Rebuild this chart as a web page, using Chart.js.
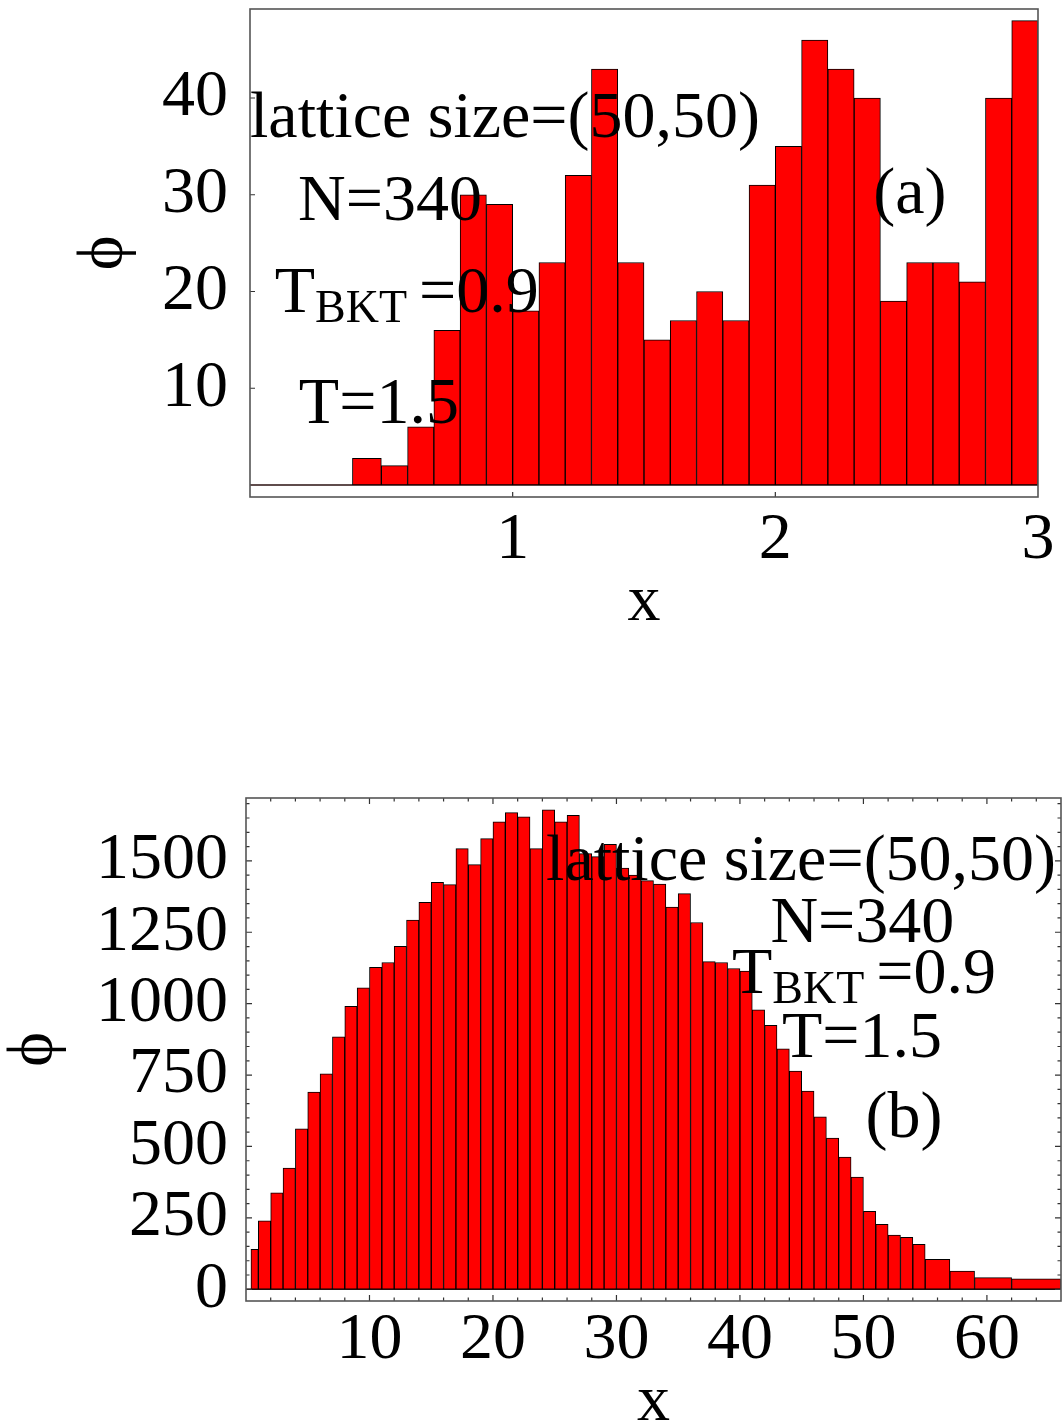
<!DOCTYPE html>
<html>
<head>
<meta charset="utf-8">
<script src="https://cdn.jsdelivr.net/npm/chart.js@4.4.0/dist/chart.umd.min.js"></script>
<style>
  html, body { margin: 0; padding: 0; background: #fff; overflow: hidden; }
  #wrapA { position: absolute; left: 0; top: 0; }
  #wrapB { position: absolute; left: 0; top: 760px; }
</style>
</head>
<body>
<div id="wrapA"><canvas id="chartA" width="1063" height="660"></canvas></div>
<div id="wrapB"><canvas id="chartB" width="1063" height="700"></canvas></div>
<script>
// ---------------- data ----------------
// (a) histogram: bin edges + counts
const edgesA = [0.39, 0.5, 0.6, 0.7, 0.8, 0.9, 1.0, 1.1, 1.2, 1.3, 1.4, 1.5, 1.6, 1.7,
  1.8, 1.9, 2.0, 2.1, 2.2, 2.3, 2.4, 2.5, 2.6, 2.7, 2.8, 2.9, 3.0];
const countsA = [2.75, 2, 6, 16, 30, 29, 18, 23, 32, 43, 23, 15, 17, 20, 17, 31, 35,
  46, 43, 40, 19, 23, 23, 21, 40, 48];
const xTicksA = [1, 2, 3];
const yTicksA = [10, 20, 30, 40];

// (b) histogram: bin edges + counts (wider bins in the tail)
const edgesB = [0.4, 1, 2, 3, 4, 5, 6, 7, 8, 9, 10, 11, 12, 13, 14, 15, 16, 17, 18, 19,
  20, 21, 22, 23, 24, 25, 26, 27, 28, 29, 30, 31, 32, 33, 34, 35, 36, 37, 38, 39, 40,
  41, 42, 43, 44, 45, 46, 47, 48, 49, 50, 51, 52, 53, 54, 55, 57, 59, 62, 66];
const countsB = [
  140, 240, 338, 424, 562, 690, 754, 884, 991, 1055,
  1127, 1144, 1201, 1293, 1355, 1425, 1417, 1543, 1487, 1578,
  1637, 1669, 1654, 1543, 1679, 1637, 1659, 1525, 1515, 1558,
  1475, 1450, 1431, 1419, 1338, 1385, 1284, 1147, 1144, 1123,
  1114, 978, 924, 842, 764, 694, 604, 529, 463, 393,
  273, 227, 190, 182, 157,
  105, 64, 41, 37,
];
const xTicksB = [10, 20, 30, 40, 50, 60];
const yTicksB = [0, 250, 500, 750, 1000, 1250, 1500];

// text labels
const sizeText = "lattice size=(50,50)";
const nText = "N=340";
const tcText = ["T", "BKT", "=0.9"];
const tText = "T=1.5";

const serif = '"Liberation Serif", "Times New Roman", serif';

// ---------------- helpers ----------------
function histData(edges, counts) {
  return counts.map((c, i) => ({ x: (edges[i] + edges[i + 1]) / 2, y: c }));
}

function range(from, to, step) {
  const out = [];
  for (let v = from; v <= to + 1e-9; v += step) out.push(v);
  return out;
}

// stretch each bar to its own bin edges (bins are not all the same width)
const binWidthPlugin = {
  id: "binWidth",
  afterDatasetsUpdate(chart) {
    const xs = chart.scales.x;
    chart.data.datasets.forEach((ds, di) => {
      const edges = ds.binEdges;
      if (!edges) return;
      chart.getDatasetMeta(di).data.forEach((bar, i) => {
        const l = xs.getPixelForValue(edges[i]);
        const r = xs.getPixelForValue(edges[i + 1]);
        bar.x = (l + r) / 2;
        bar.width = r - l;
      });
    });
  },
};

// box frame, zero line and inward tick marks
function framePlugin(o) {
  return {
    id: "frameTicks",
    beforeDatasetsDraw(chart) {
      const { ctx, chartArea: a, scales: { y } } = chart;
      const y0 = y.getPixelForValue(0);
      ctx.save();
      ctx.strokeStyle = "#2a1010";
      ctx.lineWidth = 1.4;
      ctx.beginPath();
      ctx.moveTo(a.left, y0);
      ctx.lineTo(a.right, y0);
      ctx.stroke();
      ctx.restore();
    },
    afterDatasetsDraw(chart) {
      const { ctx, chartArea: a, scales: { x, y } } = chart;
      ctx.save();
      ctx.strokeStyle = "#333";
      ctx.lineWidth = 1.2;
      ctx.beginPath();
      const xMarks = (vals, len) => vals.forEach((v) => {
        const px = x.getPixelForValue(v);
        if (px <= a.left + 1 || px >= a.right - 1) return;
        ctx.moveTo(px, a.bottom); ctx.lineTo(px, a.bottom - len);
        if (o.allSides) { ctx.moveTo(px, a.top); ctx.lineTo(px, a.top + len); }
      });
      const yMarks = (vals, len) => vals.forEach((v) => {
        const py = y.getPixelForValue(v);
        if (py <= a.top + 1 || py >= a.bottom - 1) return;
        ctx.moveTo(a.left, py); ctx.lineTo(a.left + len, py);
        if (o.allSides) { ctx.moveTo(a.right, py); ctx.lineTo(a.right - len, py); }
      });
      xMarks(o.xMajor, o.majorLen);
      yMarks(o.yMajor, o.majorLen);
      xMarks(o.xMinor || [], o.minorLen);
      yMarks(o.yMinor || [], o.minorLen);
      ctx.stroke();
      ctx.strokeStyle = "#555";
      ctx.lineWidth = 1.6;
      ctx.strokeRect(a.left, a.top, a.right - a.left, a.bottom - a.top);
      ctx.restore();
    },
  };
}

// text notes placed in data coordinates; parts run left to right
function notesPlugin(items) {
  return {
    id: "notes",
    afterDraw(chart) {
      const { ctx, scales: { x, y } } = chart;
      ctx.save();
      ctx.fillStyle = "#000";
      ctx.textAlign = "left";
      ctx.textBaseline = "alphabetic";
      items.forEach((it) => {
        let px = x.getPixelForValue(it.x);
        const py = y.getPixelForValue(it.y);
        it.parts.forEach((p) => {
          ctx.font = (p.size || 66) + "px " + serif;
          px += p.gap || 0;
          ctx.fillText(p.t, px, py + (p.dy || 0));
          px += ctx.measureText(p.t).width;
        });
      });
      ctx.restore();
    },
  };
}

function tcParts() {
  return [
    { t: tcText[0] },
    { t: tcText[1], size: 46, dy: 10 },
    { t: tcText[2], gap: 12 },
  ];
}

function histChart(id, o) {
  return new Chart(document.getElementById(id), {
    type: "bar",
    data: {
      datasets: [{
        data: histData(o.edges, o.counts),
        binEdges: o.edges,
        backgroundColor: "#ff0000",
        borderColor: "#000",
        borderWidth: 1,
        borderSkipped: false,
        barPercentage: 1,
        categoryPercentage: 1,
      }],
    },
    options: {
      responsive: false,
      animation: false,
      layout: { padding: o.padding },
      plugins: { legend: { display: false }, tooltip: { enabled: false } },
      scales: {
        x: {
          type: "linear",
          min: o.xMin, max: o.xMax,
          offset: false,
          grid: { display: false, drawTicks: false },
          border: { display: false },
          afterBuildTicks: (s) => { s.ticks = o.xTicks.map((v) => ({ value: v })); },
          afterFit: (s) => {
            s.height = o.xHeight;
            s.paddingLeft = 0;
            s.paddingRight = 0;
          },
          ticks: {
            autoSkip: false, maxRotation: 0, padding: o.xPad, color: "#000",
            font: { family: serif, size: 66, lineHeight: 1 },
            callback: (v) => String(v),
          },
          title: {
            display: true, text: "x", color: "#000",
            font: { family: serif, size: 66, lineHeight: 1 },
            padding: { top: 0, bottom: 24 },
          },
        },
        y: {
          min: o.yMin, max: o.yMax,
          grid: { display: false, drawTicks: false },
          border: { display: false },
          afterBuildTicks: (s) => { s.ticks = o.yTicks.map((v) => ({ value: v })); },
          afterFit: (s) => {
            s.width = o.yWidth;
            s.paddingTop = 0;
            s.paddingBottom = 0;
          },
          ticks: {
            autoSkip: false, padding: o.yPad, color: "#000",
            font: { family: serif, size: 66, lineHeight: 1 },
            callback: (v) => String(v),
          },
          title: {
            display: true, text: "ϕ", color: "#000",
            font: { family: serif, size: 66, lineHeight: 1 },
            padding: { top: o.phiPad, bottom: 0 },
          },
        },
      },
    },
    plugins: [binWidthPlugin, framePlugin(o.frame), notesPlugin(o.notes)],
  });
}

// ---------------- (a) ----------------
histChart("chartA", {
  edges: edgesA, counts: countsA,
  xMin: 0, xMax: 3, yMin: -1.24, yMax: 49.2,
  xTicks: xTicksA, yTicks: yTicksA,
  padding: { top: 9, right: 25, left: 0, bottom: 0 },
  xHeight: 163, yWidth: 250, xPad: 11, yPad: 22, phiPad: 72,
  frame: { xMajor: xTicksA, yMajor: yTicksA, majorLen: 5, minorLen: 3, allSides: false },
  notes: [
    { x: 0.0, y: 36.0, parts: [{ t: sizeText }] },
    { x: 0.183, y: 27.4, parts: [{ t: nText }] },
    { x: 0.094, y: 17.9, parts: tcParts() },
    { x: 0.186, y: 6.38, parts: [{ t: tText }] },
    { x: 2.373, y: 28.1, parts: [{ t: "(a)" }] },
  ],
});

// ---------------- (b) ----------------
histChart("chartB", {
  edges: edgesB, counts: countsB,
  xMin: 0, xMax: 66, yMin: -41, yMax: 1720,
  xTicks: xTicksB, yTicks: yTicksB,
  padding: { top: 38, right: 2, left: 0, bottom: 0 },
  xHeight: 159, yWidth: 246, xPad: 7, yPad: 18, phiPad: 2,
  frame: {
    xMajor: xTicksB, yMajor: yTicksB,
    xMinor: range(2, 64, 2), yMinor: range(50, 1700, 50),
    majorLen: 6, minorLen: 3.5, allSides: true,
  },
  notes: [
    { x: 24.3, y: 1434, parts: [{ t: sizeText }] },
    { x: 42.47, y: 1217, parts: [{ t: nText }] },
    { x: 39.36, y: 1036, parts: tcParts() },
    { x: 43.41, y: 814, parts: [{ t: tText }] },
    { x: 50.17, y: 534, parts: [{ t: "(b)" }] },
  ],
});
</script>
</body>
</html>
